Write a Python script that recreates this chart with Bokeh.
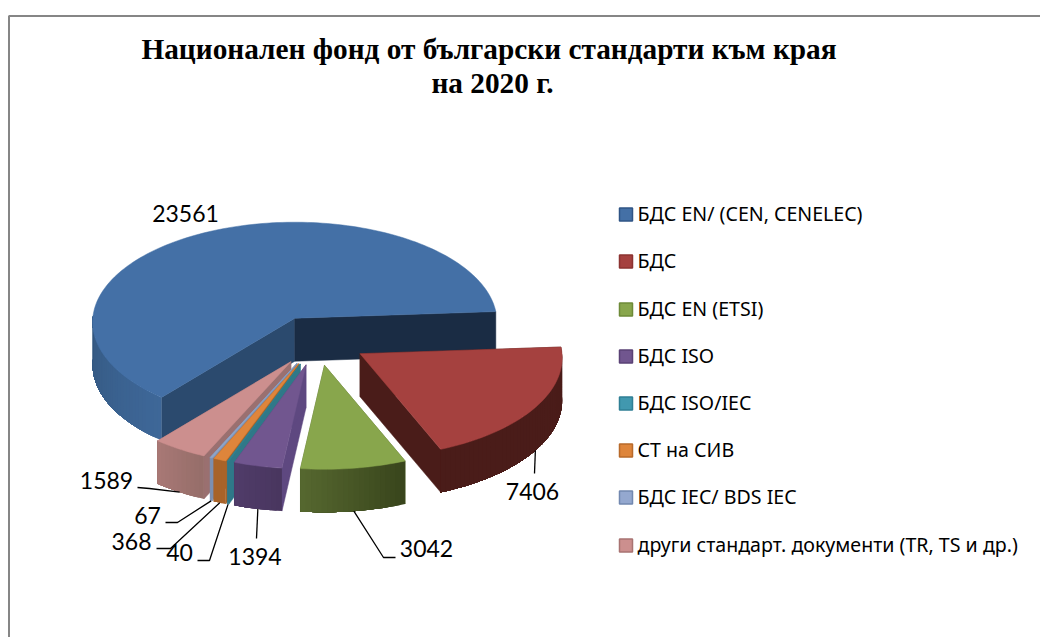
import math
from bokeh.plotting import figure
from bokeh.models import Range1d
from bokeh.core.properties import value
from bokeh.embed import file_html
from bokeh.resources import INLINE

# ---- data -----------------------------------------------------------------
title_lines = ["Национален фонд от български стандарти към края", "на 2020 г."]
categories = ["БДС EN/ (CEN, CENELEC)", "БДС", "БДС EN (ETSI)", "БДС ISO", "БДС ISO/IEC",
              "СТ на СИВ", "БДС IEC/ BDS IEC", "други стандарт. документи (TR, TS и др.)"]
values = [23561, 7406, 3042, 1394, 40, 368, 67, 1589]

# ---- styles ---------------------------------------------------------------
top_colors = ["#4470A6", "#A5413F", "#88A64C", "#71568F", "#33808F", "#DE853B", "#8FA5C9", "#CC8F8E"]
wall_left = ["#3E6798", "#4A1C19", "#55672F", "#503C69", "#2F7888", "#A86329", "#7C8FB0", "#A87875"]
wall_right = ["#345880", "#4A1C19", "#39451C", "#49365F", "#2F7888", "#A86329", "#7C8FB0", "#966E6A"]
side_colors = ["#2B4A6E", "#4A1C19", "#55672F", "#5E4880", "#2F7888", "#A86329", "#7C8FB0", "#9A7070"]
back_side = "#1A2C44"
legend_fill = ["#4470A6", "#A5413F", "#88A64C", "#71568F", "#4198AF", "#DE853B", "#94A8CF", "#CC8F8E"]
legend_line = ["#2F5485", "#8C3331", "#6E8A38", "#5A4275", "#2F7F95", "#B86A2A", "#7288B0", "#A87372"]

FONT = "Lato"
LEGEND_FONT = "Noto Sans"
W, H = 1040, 637
p = figure(width=W, height=H, output_backend="svg", toolbar_location=None,
           x_range=Range1d(0, W), y_range=Range1d(H, 0),
           min_border=0, outline_line_color=None, background_fill_color="white",
           border_fill_color="white")
p.xaxis.visible = False
p.yaxis.visible = False
p.grid.visible = False

# frame
p.line([8.5, 8.5, 1040], [637, 15.5, 15.5], line_color="#868686", line_width=2)

# ---- pie projection ---------------------------------------------------------
CX, CY = 317, 340      # undisplaced centre
A, B = 202, 100        # radii
K = 0.04               # perspective
EX_A, EX_B = 50, 25    # explosion
DEPTH = 43
START = 219.8          # clockwise from 12 o'clock


def proj(cx, cy, th):
    s, c = math.sin(math.radians(th)), -math.cos(math.radians(th))
    f = 1 + K * c
    return cx + A * s * f, cy + B * c * f


total = sum(values)
slices = []
ang = START
for i, v in enumerate(values):
    sweep = 360 * v / total
    mid = ang + sweep / 2
    cx = CX + EX_A * math.sin(math.radians(mid))
    cy = CY - EX_B * math.cos(math.radians(mid))
    slices.append(dict(i=i, a0=ang, a1=ang + sweep, mid=mid, cx=cx, cy=cy))
    ang += sweep


def arc(a0, a1):
    n = max(2, int((a1 - a0) / 1.5) + 2)
    return [a0 + (a1 - a0) * k / (n - 1) for k in range(n)]


def mix(c1, c2, t):
    a = [int(c1[j:j + 2], 16) for j in (1, 3, 5)]
    b = [int(c2[j:j + 2], 16) for j in (1, 3, 5)]
    return "#%02x%02x%02x" % tuple(round(x + (y - x) * t) for x, y in zip(a, b))


def draw_slice(s):
    i, cx, cy = s["i"], s["cx"], s["cy"]
    # radial walls
    for th, col in ((s["a0"], side_colors[i]), (s["a1"], side_colors[i] if i else back_side)):
        x, y = proj(cx, cy, th)
        p.patch([cx, x, x, cx], [cy, y, y + DEPTH, cy + DEPTH], fill_color=col, line_color=col, line_width=0.5)
    # outer wall: each step repainted over the rest of the wall, so no seams show
    w0, w1 = (s["a0"], 272) if i == 0 else (s["a0"], s["a1"])
    angs = arc(w0, w1)
    for k in range(len(angs) - 1):
        tt = k / max(1, len(angs) - 2)
        col = mix(wall_left[i], wall_right[i], tt) if i == 0 else mix(wall_right[i], wall_left[i], tt)
        rest = [proj(cx, cy, t) for t in angs[k:]]
        xs = [q[0] for q in rest]
        ys = [q[1] for q in rest]
        p.patch(xs + xs[::-1], ys + [y + DEPTH for y in ys[::-1]], fill_color=col, line_color=None)
    # top
    pts = [proj(cx, cy, t) for t in arc(s["a0"], s["a1"])]
    p.patch([cx] + [q[0] for q in pts], [cy] + [q[1] for q in pts],
            fill_color=top_colors[i], line_color=top_colors[i], line_width=0.5)


for idx in (0, 1, 7, 6, 5, 4, 3, 2):
    draw_slice(slices[idx])

# ---- labels with leaders ------------------------------------------------------
label_pos = [(185, 213), (532, 491), (426, 548), (254.5, 556), (179, 552), (131, 541), (147, 515), (106, 480)]
leader_pts = [None, [(534, 473)], [(383, 557), (395, 557)], [(256, 538)], [(209, 560), (197, 560)],
              [(170, 548), (156, 548)], [(177, 522), (165, 522)], [(149, 488), (137, 487)]]
for s, (lx, ly), pts in zip(slices, label_pos, leader_pts):
    if pts:
        x0, y0 = proj(s["cx"], s["cy"], s["mid"])
        p.line([x0] + [q[0] for q in pts], [y0 + DEPTH] + [q[1] for q in pts], line_color="black", line_width=1.3)
    p.text([lx], [ly], text=[str(values[s["i"]])], text_font=value(FONT), text_font_size="23px",
           text_align="center", text_baseline="middle", text_color="black")

# ---- title ---------------------------------------------------------------------
p.text([488.5, 492], [48, 82], text=title_lines, text_font=value("Liberation Serif"), text_font_size="29.3px",
       text_font_style="bold", text_align="center", text_baseline="middle", text_color="black")

# ---- legend ---------------------------------------------------------------------
legend_y = [214, 261, 309, 356, 403, 450, 497, 545]
p.rect([625.5] * 8, legend_y, width=13, height=13, fill_color=legend_fill, line_color=legend_line, line_width=1.5)
p.text([637] * 8, [y - 1 for y in legend_y], text=categories, text_font=value(LEGEND_FONT), text_font_size="19.6px",
       text_align="left", text_baseline="middle", text_color="black")

open("out.html", "w").write(file_html(p, INLINE))
